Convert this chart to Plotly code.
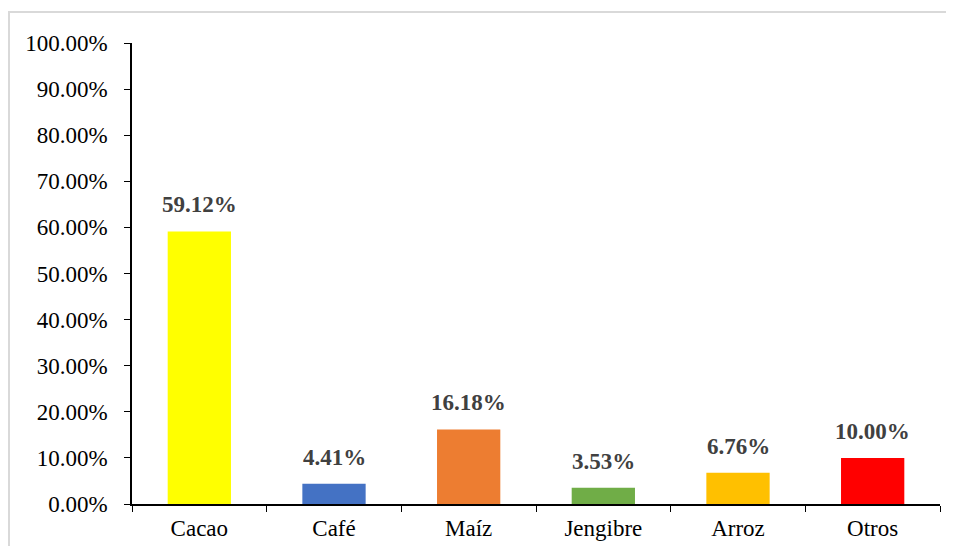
import plotly.graph_objects as go

categories = ["Cacao", "Café", "Maíz", "Jengibre", "Arroz", "Otros"]
values = [0.5912, 0.0441, 0.1618, 0.0353, 0.0676, 0.1000]
labels = ["59.12%", "4.41%", "16.18%", "3.53%", "6.76%", "10.00%"]
colors = ["#FFFF00", "#4472C4", "#ED7D31", "#70AD47", "#FFC000", "#FF0000"]

FONT = "Times New Roman, Liberation Serif, Tinos, DejaVu Serif, serif"
OFF = 8  # page body margin
W, H = 954 - 2 * OFF, 554 - 2 * OFF
L, T = 132 - OFF, 43 - OFF
R = (954 - OFF) - 940
B = (554 - OFF) - 504
pw, ph = W - L - R, H - T - B

fig = go.Figure(go.Bar(x=categories, y=values, marker=dict(color=colors, line=dict(width=0)),
                       width=0.47, hoverinfo="skip"))

for c, v, t in zip(categories, values, labels):
    fig.add_annotation(x=c, y=v, text=t, showarrow=False, yanchor="bottom", yshift=12,
                       font=dict(family=FONT, size=23, color="#404040", weight="bold"))

# outer light border (top and left), in figure pixel coordinates
def px(x):
    return (x - L) / pw
def py(y):
    return (H - B - y) / ph
fig.add_shape(type="line", xref="paper", yref="paper", x0=px(0), x1=px(W + 10), y0=py(4), y1=py(4),
              line=dict(color="#D9D9D9", width=2))
fig.add_shape(type="line", xref="paper", yref="paper", x0=px(1), x1=px(1), y0=py(4), y1=py(H + 10),
              line=dict(color="#D9D9D9", width=2))

fig.update_layout(
    width=W, height=H,
    margin=dict(l=L, r=R, t=T, b=B, autoexpand=False),
    paper_bgcolor="white", plot_bgcolor="white",
    showlegend=False,
    font=dict(family=FONT, size=23, color="black"),
    xaxis=dict(type="category", showline=True, linecolor="black", linewidth=1.5,
               ticks="outside", tickson="boundaries", ticklen=6, tickcolor="black",
               showgrid=False, tickfont=dict(family=FONT, size=23), ticklabelstandoff=3,
               automargin=False),
    yaxis=dict(range=[0, 1], dtick=0.1, tickformat=".2%", showline=True, linecolor="black",
               linewidth=1.5, ticks="outside", ticklen=6, tickcolor="black", showgrid=False,
               zeroline=False, tickfont=dict(family=FONT, size=23), ticklabelstandoff=12,
               automargin=False),
)

fig.write_html("out.html")
